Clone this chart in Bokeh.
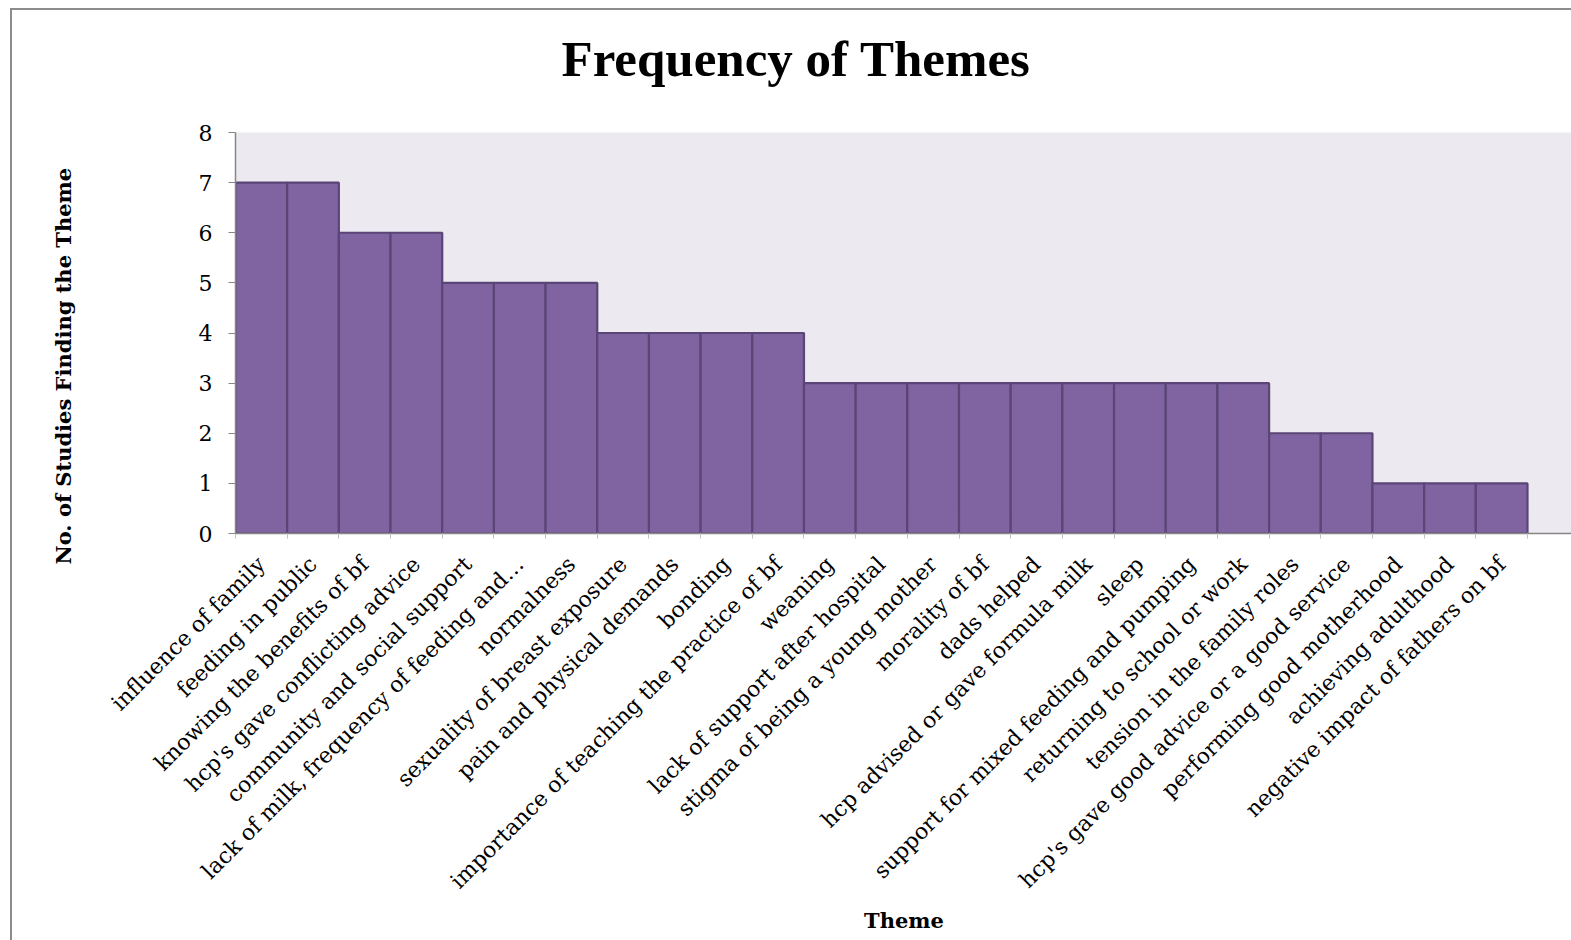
import math
from bokeh.plotting import figure
from bokeh.models import Range1d, FixedTicker, Title
from bokeh.embed import file_html
from bokeh.resources import INLINE

themes = [
    "influence of family",
    "feeding in public",
    "knowing the benefits of bf",
    "hcp's gave conflicting advice",
    "community and social support",
    "lack of milk, frequency of feeding and\u2026",
    "normalness",
    "sexuality of breast exposure",
    "pain and physical demands",
    "bonding",
    "importance of teaching the practice of bf",
    "weaning",
    "lack of support after hospital",
    "stigma of being a young mother",
    "morality of bf",
    "dads helped",
    "hcp advised or gave formula milk",
    "sleep",
    "support for mixed feeding and pumping",
    "returning to school or work",
    "tension in the family roles",
    "hcp's gave good advice or a good service",
    "performing good motherhood",
    "achieving adulthood",
    "negative impact of fathers on bf",
]
counts = [7, 7, 6, 6, 5, 5, 5, 4, 4, 4, 4, 3, 3, 3, 3, 3, 3, 3, 3, 3, 2, 2, 1, 1, 1]
y_ticks = [0, 1, 2, 3, 4, 5, 6, 7, 8]

x_pos = list(range(1, len(themes) + 1))

FRAME_W = 1337
BAR_PX = 51.68

p = figure(
    output_backend="svg",
    toolbar_location=None,
    frame_width=FRAME_W,
    frame_height=401,
    min_border_left=223,
    min_border_right=0,
    min_border_top=122,
    min_border_bottom=408,
    x_range=Range1d(0.5, 0.5 + FRAME_W / BAR_PX),
    y_range=Range1d(0, 8),
)
p.styles = {"border-left": "2px solid #8c8c8c", "border-top": "2px solid #8c8c8c"}
p.margin = (8, 0, 0, 10)

p.background_fill_color = "#ECEAF0"
p.border_fill_color = "white"
p.outline_line_color = None
p.xgrid.visible = False
p.ygrid.visible = False

p.vbar(x=x_pos, top=counts, bottom=0, width=1.0,
       fill_color="#8064A2", line_color="#5A4576", line_width=2.2)

# spacer between frame and title (closest to the frame), then the title
top_gap = Title(text=" ", text_font_size="10px", standoff=33)
p.add_layout(top_gap, "above")
title = Title(text="Frequency of Themes", align="left", offset=326,
              text_font="Liberation Serif", text_font_size="51px",
              text_font_style="bold", text_color="black", standoff=0)
p.add_layout(title, "above")

# y axis
ya = p.yaxis[0]
ya.ticker = FixedTicker(ticks=y_ticks)
ya.axis_line_color = "#868686"
ya.axis_line_width = 1.5
ya.major_tick_line_color = "#868686"
ya.major_tick_out = 7
ya.major_tick_in = 0
ya.minor_tick_out = 0
ya.minor_tick_in = 0
ya.major_label_text_font = "DejaVu Serif"
ya.major_label_text_font_size = "22px"
ya.major_label_text_color = "black"
ya.major_label_standoff = 16

left_gap = Title(text=" ", text_font_size="10px", standoff=107)
p.add_layout(left_gap, "left")
ytitle = Title(text="No. of Studies Finding the Theme", align="left", offset=-31,
               text_font="DejaVu Serif", text_font_size="21px",
               text_font_style="bold", text_color="black", standoff=0)
p.add_layout(ytitle, "left")

# x axis
xa = p.xaxis[0]
xa.ticker = FixedTicker(ticks=x_pos, minor_ticks=[i + 0.5 for i in range(0, 26)])
xa.major_label_overrides = {x: t for x, t in zip(x_pos, themes)}
xa.major_label_orientation = math.pi / 4
xa.axis_line_color = "#868686"
xa.axis_line_width = 1.5
xa.major_tick_out = 0
xa.major_tick_in = 0
xa.minor_tick_out = 5
xa.minor_tick_in = 0
xa.minor_tick_line_color = "#BFBFBF"
xa.major_label_text_font = "DejaVu Serif"
xa.major_label_text_font_size = "22px"
xa.major_label_text_color = "black"
xa.major_label_standoff = 22
xa.axis_label = "Theme"
xa.axis_label_text_font = "DejaVu Serif"
xa.axis_label_text_font_size = "21px"
xa.axis_label_text_font_style = "bold"
xa.axis_label_text_color = "black"
xa.axis_label_standoff = 3

open("out.html", "w").write(file_html(p, INLINE))
